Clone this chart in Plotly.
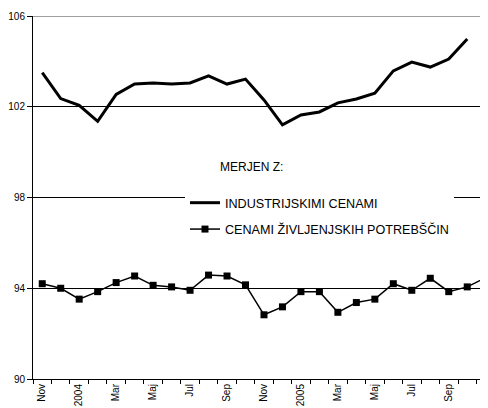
import plotly.graph_objects as go

months = ["Nov", "Dec", "2004", "Feb", "Mar", "Apr", "Maj", "Jun", "Jul", "Avg", "Sep", "Okt",
          "Nov", "Dec", "2005", "Feb", "Mar", "Apr", "Maj", "Jun", "Jul", "Avg", "Sep", "Okt", "Nov"]
tick_labels = ["Nov", "2004", "Mar", "Maj", "Jul", "Sep", "Nov", "2005", "Mar", "Maj", "Jul", "Sep", "Nov"]

industrial = [103.50, 102.36, 102.06, 101.36, 102.54, 103.00, 103.05, 103.00, 103.05, 103.36,
              103.00, 103.22, 102.30, 101.20, 101.64, 101.77, 102.17, 102.34, 102.60, 103.58,
              103.97, 103.75, 104.10, 104.99]
consumer = [94.20, 94.00, 93.52, 93.85, 94.25, 94.54, 94.13, 94.06, 93.91, 94.58,
            94.54, 94.15, 92.83, 93.18, 93.85, 93.85, 92.94, 93.37, 93.52, 94.20,
            93.91, 94.44, 93.85, 94.06, 94.47]

x_all = list(range(len(months)))
font_family = "Liberation Sans, Arial, sans-serif"

# page body has an 8px margin; figure starts at (8, 8)
PW, PH = 458, 363  # plot-area size
STEP = 18.6

fig = go.Figure()
fig.add_trace(go.Scatter(
    x=x_all[:len(industrial)], y=industrial, mode="lines",
    name="INDUSTRIJSKIMI CENAMI", legendgroup="a",
    line=dict(color="black", width=3),
))
fig.add_trace(go.Scatter(
    x=x_all[:len(consumer)], y=consumer, mode="lines+markers",
    name="CENAMI ŽIVLJENJSKIH POTREBŠČIN", legendgroup="b",
    line=dict(color="black", width=1.5),
    marker=dict(symbol="square", size=7, color="black"),
))

fig.add_shape(type="line", xref="paper", yref="y", x0=0, x1=1, y0=106, y1=106,
              line=dict(color="#808080", width=1.5), layer="above")

fig.add_annotation(text="MERJEN Z:", xref="paper", yref="paper",
                   x=(216 - 30) / PW, y=(379 - 167) / PH,
                   xanchor="left", yanchor="middle", showarrow=False,
                   font=dict(family=font_family, size=12, color="black"))

fig.update_layout(
    width=480, height=400,
    margin=dict(l=22, r=0, t=8, b=29),
    paper_bgcolor="white", plot_bgcolor="white",
    font=dict(family=font_family, size=10, color="black"),
    showlegend=True,
    legend=dict(
        x=(183 - 30) / PW, xanchor="left",
        y=(379 - 188) / PH, yanchor="top",
        bgcolor="white", borderwidth=0,
        font=dict(family=font_family, size=12.6, color="black"),
        tracegroupgap=7,
    ),
    xaxis=dict(
        range=[-0.5, -0.5 + PW / STEP],
        tickmode="array",
        tickvals=x_all[::2],
        ticktext=tick_labels,
        tickangle=-90,
        ticks="",
        showgrid=False,
        showline=True, linecolor="black", linewidth=1,
        zeroline=False,
        tickfont=dict(size=10),
        minor=dict(tickmode="array", tickvals=[i - 0.5 for i in range(len(months) + 1)],
                   ticks="outside", ticklen=4, tickcolor="black", tickwidth=1, showgrid=False),
    ),
    yaxis=dict(
        range=[90, 106],
        tickmode="array",
        tickvals=[90, 94, 98, 102, 106],
        ticks="outside", ticklen=5, tickcolor="black",
        showgrid=True, gridcolor="black", gridwidth=1,
        showline=True, linecolor="black", linewidth=1,
        zeroline=False,
        tickfont=dict(size=10),
    ),
)

fig.write_html("out.html")
